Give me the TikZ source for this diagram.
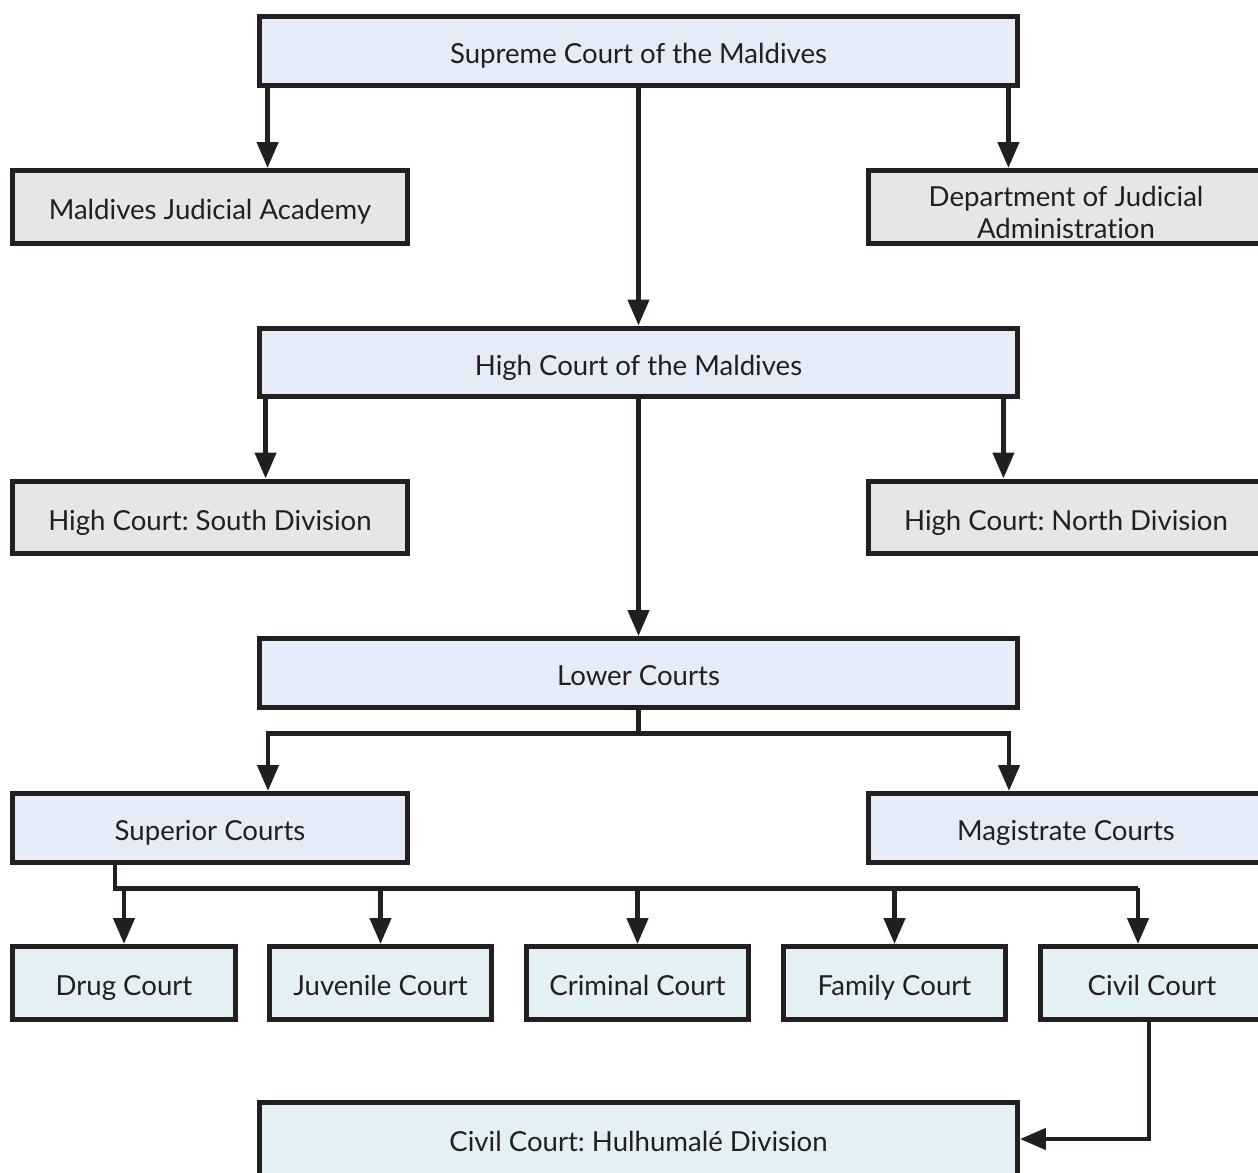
\documentclass[tikz,border=0pt]{standalone}
\usepackage{fontspec}
\setmainfont{Lato}[Ligatures=NoCommon]
\usetikzlibrary{arrows.meta, positioning, calc}
\definecolor{ink}{HTML}{231F20}
\definecolor{fillblue}{HTML}{E5ECF8}
\definecolor{fillgray}{HTML}{E6E6E8}
\definecolor{fillcyan}{HTML}{E3F1F5}
\frenchspacing

\begin{document}
\begin{tikzpicture}[x=0.02cm, y=-0.02cm, font=\fontsize{15.7}{18}\selectfont,
  courtbox/.style={draw=ink, line width=0.1cm, text=ink, inner sep=0pt, align=center,
    text height=14.5pt, text depth=0pt},
  wide/.style={courtbox, fill=fillblue, minimum width=15.16cm, minimum height=1.38cm},
  side/.style={courtbox, fill=fillgray, minimum width=7.9cm, minimum height=1.46cm},
  small/.style={courtbox, fill=fillcyan, minimum width=4.46cm, minimum height=1.46cm},
  link/.style={draw=ink, line width=0.09cm},
  arr/.style={link, -{Triangle[length=0.52cm, width=0.42cm]}}]
  % page size (1258 x 1173)
  \useasboundingbox (0,0) rectangle (1258,1173);

  \node[wide] (sup) at (638.5,51) {Supreme Court of the Maldives};
  \node[side] (acad) at (210,207) {Maldives Judicial Academy};
  \node[side, text height={}, text depth={}] (dept) at (1066,207)
    {\rule{0pt}{0.2cm}\\[-0.2cm]Department of Judicial\\Administration};
  \node[wide] (high) at (638.5,362.5) {High Court of the Maldives};
  \node[side] (south) at (210,517.5) {High Court: South Division};
  \node[side] (north) at (1066,517.5) {High Court: North Division};
  \node[wide] (lower) at (638.5,673) {Lower Courts};
  \node[side, fill=fillblue, minimum height=1.38cm] (superior) at (210,828) {Superior Courts};
  \node[side, fill=fillblue, minimum height=1.38cm] (magis) at (1066,828) {Magistrate Courts};
  \node[small] (drug) at (124,983) {Drug Court};
  \node[small] (juv) at (380.5,983) {Juvenile Court};
  \node[small] (crim) at (637.5,983) {Criminal Court};
  \node[small] (fam) at (894.5,983) {Family Court};
  \node[small] (civil) at (1152,983) {Civil Court};
  \node[wide, fill=fillcyan, minimum height=1.46cm] (hulhu) at (638.5,1139) {Civil Court: Hulhumalé Division};

  % supreme and high court
  \draw[arr] ([xshift=0.21cm]sup.south west) -- ([xshift=0.21cm]sup.south west |- acad.north);
  \draw[arr] ([xshift=-0.23cm]sup.south east) -- ([xshift=-0.23cm]sup.south east |- dept.north);
  \draw[arr] (sup.south) -- (high.north);
  \draw[arr] ([xshift=0.17cm]high.south west) -- ([xshift=0.17cm]high.south west |- south.north);
  \draw[arr] ([xshift=-0.33cm]high.south east) -- ([xshift=-0.33cm]high.south east |- north.north);
  \draw[arr] (high.south) -- (lower.north);

  % lower courts
  \coordinate (lbus) at ([yshift=-0.47cm]lower.south);
  \draw[link] (lower.south) -- (lbus);
  \draw[arr] (lbus) -| ([xshift=1.16cm]superior.north);
  \draw[arr] (lbus) -| ([xshift=-1.14cm]magis.north);

  % superior courts
  \coordinate (sbus) at ([xshift=-1.9cm, yshift=-0.47cm]superior.south);
  \coordinate (civtop) at ([xshift=-0.28cm]civil.north);
  \draw[link] ([xshift=-1.9cm]superior.south) |- (civtop |- sbus);
  \foreach \n in {drug, juv, crim, fam}
    \draw[arr] (\n.north |- sbus) -- (\n.north);
  \draw[arr] (civtop |- sbus) -- (civtop);

  \draw[arr] ([xshift=-0.06cm]civil.south) |- (hulhu.east);
\end{tikzpicture}
\end{document}
